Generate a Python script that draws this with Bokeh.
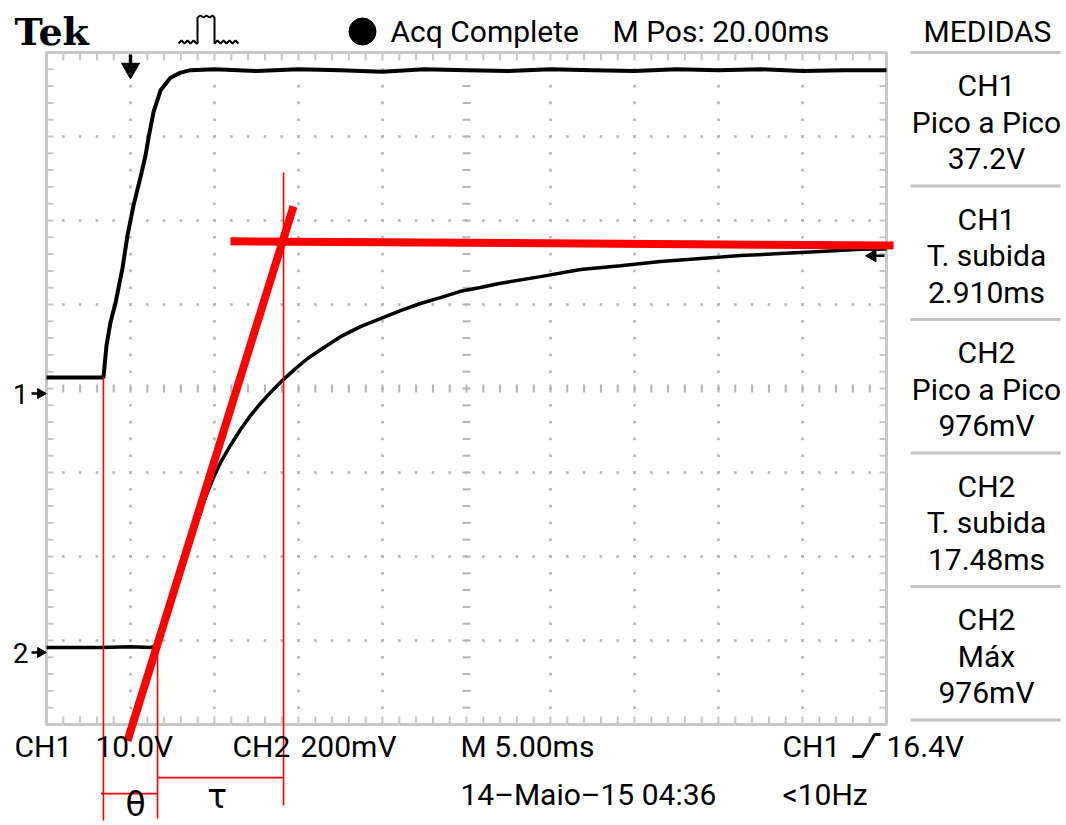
import numpy as np
from bokeh.plotting import figure
from bokeh.models import Range1d
from bokeh.core.properties import value
from bokeh.embed import file_html
from bokeh.resources import INLINE

ms_per_div = 5.0
ch1_volts_per_div = 10.0
ch2_mv_per_div = 200.0
ch1_ground_div = 3.94
ch2_ground_div = 0.857
trigger_level_v = 16.4

# CH1 : step input (V) vs time (ms), trigger at t = 0
ch1_time_ms = [-5.0, -1.61, -1.43, -1.19, -0.89, -0.48, -0.18, 0.18, 0.60, 0.89,
               1.07, 1.37, 1.79, 2.38, 2.98, 3.57, 5.0, 7.5, 10.0, 12.5, 15.0,
               17.5, 20.0, 22.5, 25.0, 27.5, 30.0, 32.5, 35.0, 37.5, 40.0, 42.5, 45.0]
ch1_volts = [1.9, 1.9, 5.7, 8.5, 10.8, 14.9, 18.8, 22.4, 25.8, 28.3,
             30.4, 33.5, 36.1, 37.6, 38.2, 38.5, 38.6, 38.4, 38.6, 38.5, 38.3,
             38.6, 38.5, 38.4, 38.6, 38.5, 38.4, 38.6, 38.5, 38.6, 38.4, 38.5, 38.5]

# CH2 : process response (mV) vs time (ms)
ch2_time_ms = [-5.0, -1.79, 0.0, 1.19, 1.61, 2.08, 2.68, 3.27, 3.87, 4.46, 4.94,
               5.42, 5.95, 6.55, 7.14, 7.74, 8.33, 9.05, 9.82, 10.54, 11.31,
               12.50, 13.69, 14.88, 16.07, 17.26, 18.45, 19.64, 20.83, 22.02,
               24.40, 26.79, 29.17, 31.55, 33.93, 36.31, 38.69, 41.07, 43.45, 45.0]
ch2_mv = [12, 12, 14, 12, 17, 71, 148, 224, 298, 369, 417,
          457, 493, 531, 564, 593, 619, 648, 676, 700, 721,
          752, 776, 795, 814, 831, 845, 860, 869, 879,
          895, 912, 921, 931, 938, 945, 950, 955, 960, 961]

# hand-drawn analysis overlay (in CH2 units)
theta_start_ms = -1.61
theta_end_ms = 1.61
tau_end_ms = 9.11
final_level_ms = [5.95, 45.42]
final_level_mv = [979, 969]
tangent_ms = [-0.18, 9.70]
tangent_mv = [-210, 1062]
theta_line_mv = [655, -400]
theta_end_line_mv = [12, -395]
tau_line_mv = [1143, -364]
tau_bracket_mv = -298
theta_bracket_mv = -336

header_texts = ["Acq Complete", "M Pos: 20.00ms"]
measure_titles = ["CH1", "CH1", "CH2", "CH2", "CH2"]
measure_names = ["Pico a Pico", "T. subida", "Pico a Pico", "T. subida", "Máx"]
measure_values = ["37.2V", "2.910ms", "976mV", "17.48ms", "976mV"]
footer_line1 = ["CH1", "10.0V", "CH2", "200mV", "M 5.00ms", "CH1", "16.4V"]
footer_line2 = ["14\u2013Maio\u201315 04:36", "<10Hz"]

# ---------------- layout helpers (pixel -> data) ----------------
W, H = 1066, 825
PX_DIV = 84.0
SCR_L, SCR_B = 46.0, 724.0


def sx(px):
    return -ms_per_div + (px - SCR_L) / PX_DIV * ms_per_div


def sy(py):
    return (SCR_B - py) / PX_DIV


def dx(px):
    return px / PX_DIV * ms_per_div


def dy(py):
    return py / PX_DIV


def ch1_div(v):
    return ch1_ground_div + np.asarray(v, float) / ch1_volts_per_div


def ch2_div(mv):
    return ch2_ground_div + np.asarray(mv, float) / ch2_mv_per_div


FONT = "Roboto"
FS = "30px"
GRID = "#b4b4b4"
BORDER = "#c8c8c8"
RED = "#ff0000"

p = figure(width=W, height=H, x_range=Range1d(sx(0), sx(W)), y_range=Range1d(sy(H), sy(0)),
           output_backend="svg", toolbar_location=None, title=None,
           x_axis_location=None, y_axis_location=None, min_border=0,
           background_fill_color="white", border_fill_color="white")
p.grid.visible = False
p.outline_line_color = None

t0, t1 = -ms_per_div, 9 * ms_per_div
d0, d1 = 0.0, 8.0

# ---------------- graticule ----------------
minor_t = np.arange(t0 + 1, t1 - 0.5, 1.0)
minor_d = np.arange(d0 + 0.2, d1 - 0.1, 0.2)
tc, dc = 20.0, 4.0
gx, gy = [], []
for t in np.arange(t0 + 5, t1 - 1, 5.0):
    if abs(t - tc) > 1e-6:
        gx += [t] * len(minor_d)
        gy += list(minor_d)
for d in np.arange(1.0, 8.0, 1.0):
    if abs(d - dc) > 1e-6:
        gx += list(minor_t)
        gy += [d] * len(minor_t)
p.scatter(gx, gy, marker="square", size=2.6, color=GRID, line_color=None)

# centre cross ticks
p.segment(x0=[tc - dx(4)] * len(minor_d), x1=[tc + dx(4)] * len(minor_d), y0=minor_d, y1=minor_d,
          line_color=GRID, line_width=2)
p.segment(x0=minor_t, x1=minor_t, y0=[dc - dy(4)] * len(minor_t), y1=[dc + dy(4)] * len(minor_t),
          line_color=GRID, line_width=2)

# border ticks
p.segment(x0=minor_t, x1=minor_t, y0=[d1] * len(minor_t), y1=[d1 - dy(8)] * len(minor_t),
          line_color=BORDER, line_width=2)
p.segment(x0=minor_t, x1=minor_t, y0=[d0] * len(minor_t), y1=[d0 + dy(8)] * len(minor_t),
          line_color=BORDER, line_width=2)
p.segment(x0=[t0] * len(minor_d), x1=[t0 + dx(7)] * len(minor_d), y0=minor_d, y1=minor_d,
          line_color=BORDER, line_width=2)
p.segment(x0=[t1] * len(minor_d), x1=[t1 - dx(7)] * len(minor_d), y0=minor_d, y1=minor_d,
          line_color=BORDER, line_width=2)
p.quad(left=t0, right=t1, bottom=d0, top=d1, fill_color=None, line_color=BORDER, line_width=3)

# ---------------- traces ----------------
p.line(ch1_time_ms, ch1_div(ch1_volts), line_color="black", line_width=4)
p.line(ch2_time_ms, ch2_div(ch2_mv), line_color="black", line_width=3.5)

# ---------------- markers ----------------
# trigger position arrow (top)
p.segment(x0=[0], x1=[0], y0=[sy(54)], y1=[sy(66)], line_color="black", line_width=3.5)
p.scatter([0], [sy(68)], marker="inverted_triangle", size=18, color="black")
# ground markers
for lab, gd in (("1", ch1_ground_div), ("2", ch2_ground_div)):
    p.text([sx(20)], [gd], text=[lab], text_font=value(FONT), text_font_size="28px",
           text_align="center", text_baseline="middle", text_color="black")
    p.segment(x0=[sx(31)], x1=[sx(42)], y0=[gd], y1=[gd], line_color="black", line_width=2.5)
    p.scatter([sx(40)], [gd], marker="triangle", angle=-np.pi / 2, size=10, color="black")
# trigger level marker (right)
tl = float(ch1_div(trigger_level_v))
p.segment(x0=[sx(870)], x1=[sx(884)], y0=[tl], y1=[tl], line_color="black", line_width=2.5)
p.scatter([sx(872)], [tl], marker="triangle", angle=np.pi / 2, size=12, color="black")

# ---------------- red analysis overlay ----------------
p.line([theta_start_ms] * 2, ch2_div(theta_line_mv), line_color=RED, line_width=1.6)
p.line([theta_end_ms] * 2, ch2_div(theta_end_line_mv), line_color=RED, line_width=1.6)
p.line([tau_end_ms] * 2, ch2_div(tau_line_mv), line_color=RED, line_width=1.6)
p.line([theta_end_ms, tau_end_ms], ch2_div([tau_bracket_mv] * 2), line_color=RED, line_width=1.6)
p.line([theta_start_ms - 0.15, theta_end_ms], ch2_div([theta_bracket_mv] * 2), line_color=RED, line_width=1.6)
p.line(final_level_ms, ch2_div(final_level_mv), line_color=RED, line_width=8)
p.line(tangent_ms, ch2_div(tangent_mv), line_color=RED, line_width=8)
p.text([(theta_start_ms + theta_end_ms) / 2 + 0.3], [float(ch2_div(-362))], text=["\u03b8"],
       text_font=value("DejaVu Sans"), text_font_size="33px", text_align="center",
       text_baseline="middle", text_color="black")
p.text([(theta_end_ms + tau_end_ms) / 2 - 0.2], [float(ch2_div(-342))], text=["\u03c4"],
       text_font=value("DejaVu Sans"), text_font_size="33px", text_align="center",
       text_baseline="middle", text_color="black")

# ---------------- header ----------------
p.text([sx(14)], [sy(31)], text=["Tek"], text_font=value("DejaVu Serif"), text_font_style="bold",
       text_font_size="38px", text_align="left", text_baseline="middle", text_color="black")
pulse_px_x = [178, 181, 184, 187, 190, 193, 196, 197, 197, 200, 203, 206, 209, 212, 214, 214,
              217, 220, 223, 226, 229, 232, 235, 238]
pulse_px_y = [43, 40, 43, 40, 43, 40, 43, 43, 17, 15, 17, 15, 17, 15, 17, 43,
              40, 43, 40, 43, 40, 43, 40, 43]
p.line([sx(v) for v in pulse_px_x], [sy(v) for v in pulse_px_y], line_color="black", line_width=2)
p.scatter([sx(362)], [sy(31)], marker="circle", size=27, color="black")
p.text([sx(390), sx(612)], [sy(31)] * 2, text=header_texts, text_font=value(FONT), text_font_size=FS,
       text_align="left", text_baseline="middle", text_color="black")
p.text([sx(987)], [sy(31)], text=["MEDIDAS"], text_font=value(FONT), text_font_size=FS,
       text_align="center", text_baseline="middle", text_color="black")

# ---------------- measurement panel ----------------
sep_y = [sy(52 + 133.5 * k) for k in range(6)]
p.segment(x0=[sx(910)] * 6, x1=[sx(1060)] * 6, y0=sep_y, y1=sep_y, line_color="#c4c4c4", line_width=3)
for k in range(5):
    base = 85 + 133.5 * k
    p.text([sx(986)] * 3, [sy(base), sy(base + 36.5), sy(base + 73)],
           text=[measure_titles[k], measure_names[k], measure_values[k]],
           text_font=value(FONT), text_font_size=FS, text_align="center",
           text_baseline="middle", text_color="black")

# ---------------- footer ----------------
f1x = [14, 95, 232, 300, 460, 782, 886]
p.text([sx(v) for v in f1x], [sy(746)] * len(f1x), text=footer_line1, text_font=value(FONT),
       text_font_size=FS, text_align="left", text_baseline="middle", text_color="black")
edge_px_x = [852, 862, 874, 880]
edge_px_y = [756, 756, 734, 734]
p.line([sx(v) for v in edge_px_x], [sy(v) for v in edge_px_y], line_color="black", line_width=3)
p.text([sx(460), sx(782)], [sy(794)] * 2, text=footer_line2, text_font=value(FONT),
       text_font_size=FS, text_align="left", text_baseline="middle", text_color="black")

open("out.html", "w").write(file_html(p, INLINE))
